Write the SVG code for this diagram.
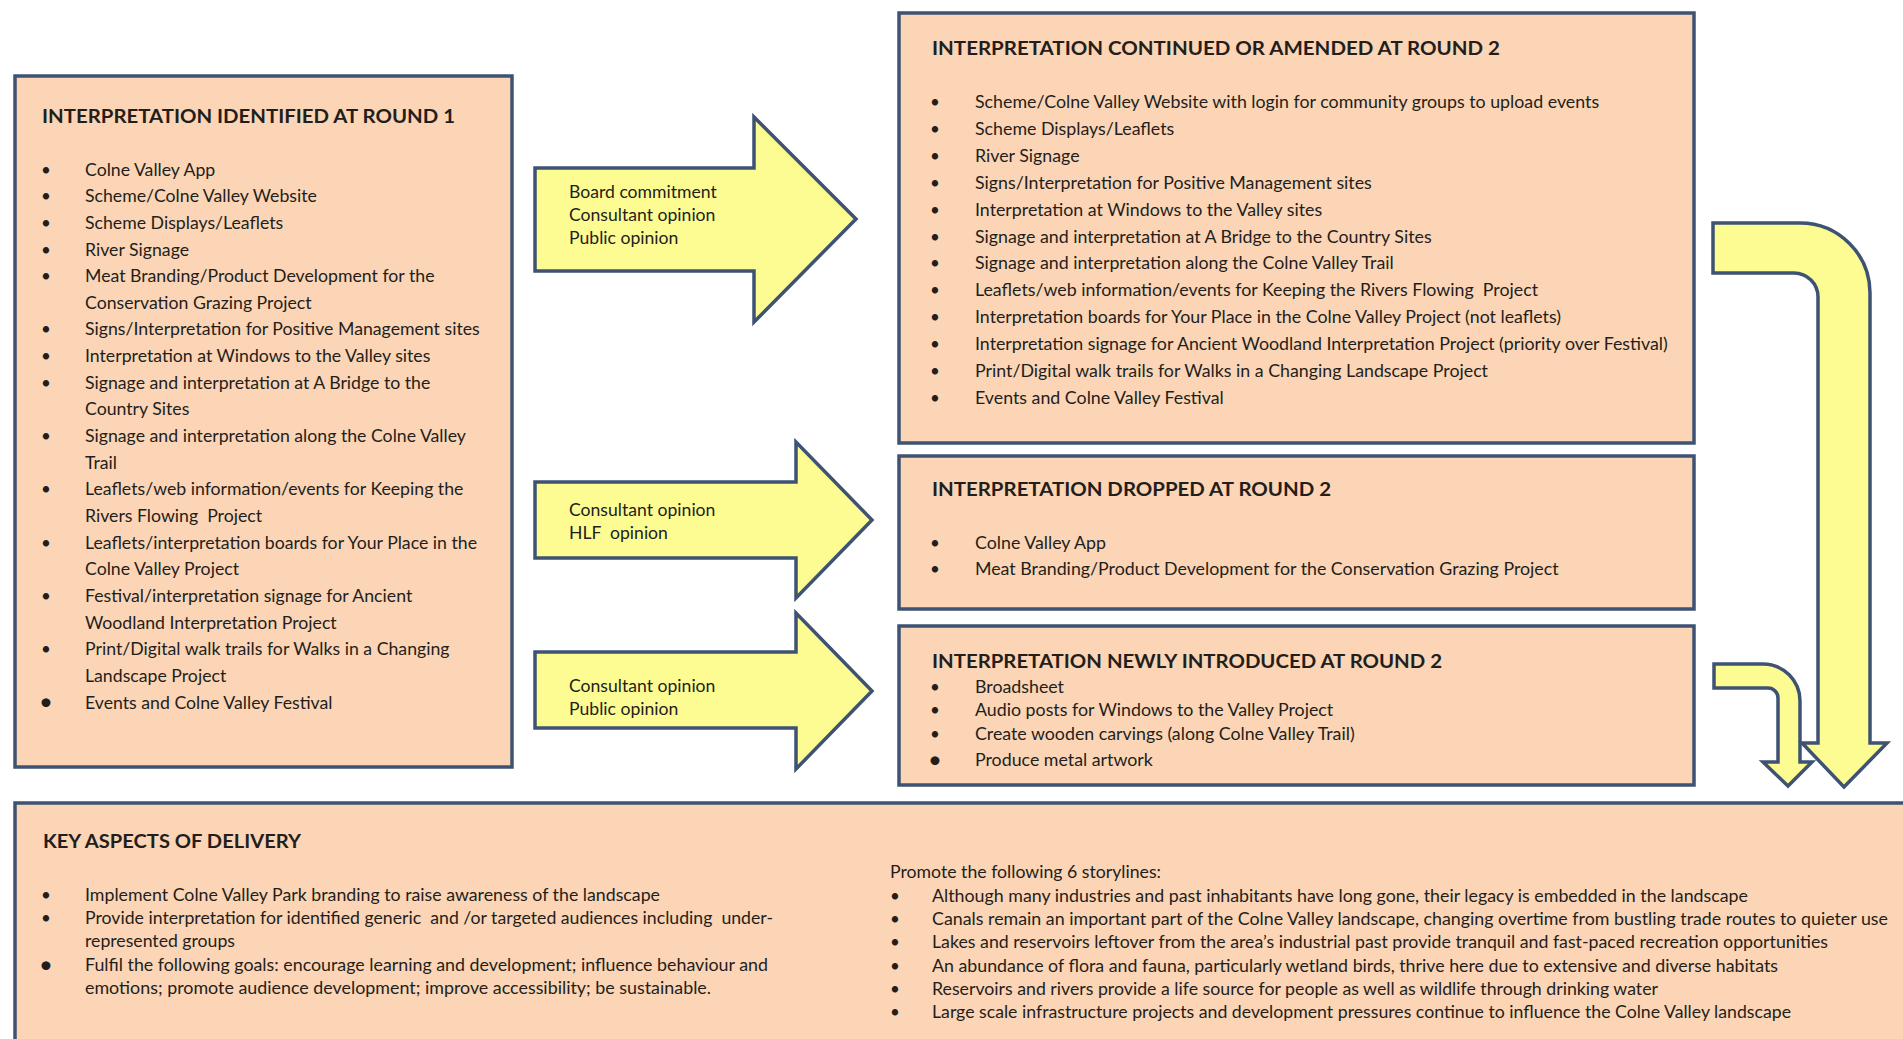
<svg xmlns="http://www.w3.org/2000/svg" width="1903" height="1039" viewBox="0 0 1903 1039">
  <style>
    .box { fill: #FBD5B6; stroke: #3E5374; stroke-width: 3.5; }
    .arrow { fill: #FDFC93; stroke: #3E5374; stroke-width: 3.5; stroke-linejoin: miter; }
    text { font-family: Lato, "Liberation Sans", sans-serif; fill: #231e1b; }
    .title { font-weight: bold; font-size: 19px; }
    .item { font-size: 17.7px; }
    .ritem { font-size: 17.8px; }
    .small { font-size: 16.4px; }
    .label { font-size: 17.6px; }
    .bul { text-anchor: middle; font-size: 17px; }
    .bigbul { text-anchor: middle; font-size: 24px; }
  </style>

  <rect width="1903" height="1039" fill="#ffffff"/>

  <!-- connectors: block arrows between the boxes -->
  <g id="connectors">
    <g id="arrow-round1-continued">
      <path class="arrow" d="M535,168 H754 V117 L856,219 L754,322 V271 H535 Z"/>
      <text class="label" x="569" y="198">Board commitment</text>
      <text class="label" x="569" y="221">Consultant opinion</text>
      <text class="label" x="569" y="244">Public opinion</text>
    </g>
    <g id="arrow-round1-dropped">
      <path class="arrow" d="M535,482 H796 V442 L872,520 L796,598 V558 H535 Z"/>
      <text class="label" x="569" y="516">Consultant opinion</text>
      <text class="label" x="569" y="539" xml:space="preserve">HLF  opinion</text>
    </g>
    <g id="arrow-round1-new">
      <path class="arrow" d="M535,652 H796 V613 L872,691 L796,769 V728 H535 Z"/>
      <text class="label" x="569" y="692">Consultant opinion</text>
      <text class="label" x="569" y="715">Public opinion</text>
    </g>
    <g id="arrow-new-delivery">
      <path class="arrow" d="M1714,664 H1763 A37,37 0 0 1 1800,701 V762 H1812 L1788,786 L1763,762 H1778 V698 A10,10 0 0 0 1768,688 H1714 Z"/>
    </g>
    <g id="arrow-continued-delivery">
      <path class="arrow" d="M1713,223 H1800 A70,70 0 0 1 1870,293 V743 H1887 L1844,787 L1802,743 H1818 V297 A24,24 0 0 0 1794,273 H1713 Z"/>
    </g>
  </g>

  <!-- Round 1 -->
  <g id="round1">
    <rect class="box" x="15" y="76" width="497" height="691"/>
    <text class="title" x="42" y="123" textLength="413" lengthAdjust="spacingAndGlyphs">INTERPRETATION IDENTIFIED AT ROUND 1</text>
    <g>
      <text class="bul" x="46" y="175.5">•</text>
      <text class="bul" x="46" y="202.2">•</text>
      <text class="bul" x="46" y="228.8">•</text>
      <text class="bul" x="46" y="255.5">•</text>
      <text class="bul" x="46" y="282.1">•</text>
      <text class="bul" x="46" y="335.4">•</text>
      <text class="bul" x="46" y="362.1">•</text>
      <text class="bul" x="46" y="388.7">•</text>
      <text class="bul" x="46" y="442">•</text>
      <text class="bul" x="46" y="495.3">•</text>
      <text class="bul" x="46" y="548.6">•</text>
      <text class="bul" x="46" y="601.9">•</text>
      <text class="bul" x="46" y="655.2">•</text>
      <text class="bigbul" x="46" y="710">•</text>
    </g>
    <g>
      <text class="item" x="85" y="175.5">Colne Valley App</text>
      <text class="item" x="85" y="202.2">Scheme/Colne Valley Website</text>
      <text class="item" x="85" y="228.8">Scheme Displays/Leaflets</text>
      <text class="item" x="85" y="255.5">River Signage</text>
      <text class="item" x="85" y="282.1">Meat Branding/Product Development for the</text>
      <text class="item" x="85" y="308.8">Conservation Grazing Project</text>
      <text class="item" x="85" y="335.4">Signs/Interpretation for Positive Management sites</text>
      <text class="item" x="85" y="362.1">Interpretation at Windows to the Valley sites</text>
      <text class="item" x="85" y="388.7">Signage and interpretation at A Bridge to the</text>
      <text class="item" x="85" y="415.4">Country Sites</text>
      <text class="item" x="85" y="442">Signage and interpretation along the Colne Valley</text>
      <text class="item" x="85" y="468.7">Trail</text>
      <text class="item" x="85" y="495.3">Leaflets/web information/events for Keeping the</text>
      <text class="item" x="85" y="522" xml:space="preserve">Rivers Flowing  Project</text>
      <text class="item" x="85" y="548.6">Leaflets/interpretation boards for Your Place in the</text>
      <text class="item" x="85" y="575.3">Colne Valley Project</text>
      <text class="item" x="85" y="601.9">Festival/interpretation signage for Ancient</text>
      <text class="item" x="85" y="628.6">Woodland Interpretation Project</text>
      <text class="item" x="85" y="655.2">Print/Digital walk trails for Walks in a Changing</text>
      <text class="item" x="85" y="681.9">Landscape Project</text>
      <text class="item" x="85" y="708.5">Events and Colne Valley Festival</text>
    </g>
  </g>

  <!-- Round 2: continued or amended -->
  <g id="continued">
    <rect class="box" x="899" y="13" width="795" height="430"/>
    <text class="title" x="932" y="55" textLength="568" lengthAdjust="spacingAndGlyphs">INTERPRETATION CONTINUED OR AMENDED AT ROUND 2</text>
    <g>
      <text class="bul" x="935" y="108">•</text>
      <text class="bul" x="935" y="134.9">•</text>
      <text class="bul" x="935" y="161.8">•</text>
      <text class="bul" x="935" y="188.7">•</text>
      <text class="bul" x="935" y="215.6">•</text>
      <text class="bul" x="935" y="242.5">•</text>
      <text class="bul" x="935" y="269.4">•</text>
      <text class="bul" x="935" y="296.3">•</text>
      <text class="bul" x="935" y="323.2">•</text>
      <text class="bul" x="935" y="350.1">•</text>
      <text class="bul" x="935" y="377">•</text>
      <text class="bul" x="935" y="403.9">•</text>
    </g>
    <text class="ritem" x="975" y="108">Scheme/Colne Valley Website with login for community groups to upload events</text>
    <text class="ritem" x="975" y="134.9">Scheme Displays/Leaflets</text>
    <text class="ritem" x="975" y="161.8">River Signage</text>
    <text class="ritem" x="975" y="188.7">Signs/Interpretation for Positive Management sites</text>
    <text class="ritem" x="975" y="215.6">Interpretation at Windows to the Valley sites</text>
    <text class="ritem" x="975" y="242.5">Signage and interpretation at A Bridge to the Country Sites</text>
    <text class="ritem" x="975" y="269.4">Signage and interpretation along the Colne Valley Trail</text>
    <text class="ritem" x="975" y="296.3" xml:space="preserve">Leaflets/web information/events for Keeping the Rivers Flowing  Project</text>
    <text class="ritem" x="975" y="323.2">Interpretation boards for Your Place in the Colne Valley Project (not leaflets)</text>
    <text class="ritem" x="975" y="350.1">Interpretation signage for Ancient Woodland Interpretation Project (priority over Festival)</text>
    <text class="ritem" x="975" y="377">Print/Digital walk trails for Walks in a Changing Landscape Project</text>
    <text class="ritem" x="975" y="403.9">Events and Colne Valley Festival</text>
  </g>

  <!-- Round 2: dropped -->
  <g id="dropped">
    <rect class="box" x="899" y="456" width="795" height="153"/>
    <text class="title" x="932" y="496" textLength="399" lengthAdjust="spacingAndGlyphs">INTERPRETATION DROPPED AT ROUND 2</text>
    <text class="bul" x="935" y="549">•</text>
    <text class="bul" x="935" y="575">•</text>
    <text class="ritem" x="975" y="549">Colne Valley App</text>
    <text class="ritem" x="975" y="575">Meat Branding/Product Development for the Conservation Grazing Project</text>
  </g>

  <!-- Round 2: newly introduced -->
  <g id="new">
    <rect class="box" x="899" y="626" width="795" height="159"/>
    <text class="title" x="932" y="668" textLength="510" lengthAdjust="spacingAndGlyphs">INTERPRETATION NEWLY INTRODUCED AT ROUND 2</text>
    <text class="bul" x="935" y="693">•</text>
    <text class="bul" x="935" y="716">•</text>
    <text class="bul" x="935" y="740">•</text>
    <text class="bigbul" x="935" y="768">•</text>
    <text class="ritem" x="975" y="693">Broadsheet</text>
    <text class="ritem" x="975" y="716">Audio posts for Windows to the Valley Project</text>
    <text class="ritem" x="975" y="740">Create wooden carvings (along Colne Valley Trail)</text>
    <text class="ritem" x="975" y="766">Produce metal artwork</text>
  </g>

  <!-- Key aspects of delivery -->
  <g id="delivery">
    <rect class="box" x="15" y="803" width="1900" height="250"/>
    <text class="title" x="43" y="848" textLength="258" lengthAdjust="spacingAndGlyphs">KEY ASPECTS OF DELIVERY</text>
    <text class="bul" x="46" y="901">•</text>
    <text class="bul" x="46" y="924">•</text>
    <text class="bigbul" x="46" y="973">•</text>
    <text class="small" x="85" y="901" textLength="575" lengthAdjust="spacingAndGlyphs">Implement Colne Valley Park branding to raise awareness of the landscape</text>
    <text class="small" x="85" y="924" textLength="688" lengthAdjust="spacingAndGlyphs" xml:space="preserve">Provide interpretation for identified generic  and /or targeted audiences including  under-</text>
    <text class="small" x="85" y="947" textLength="150" lengthAdjust="spacingAndGlyphs">represented groups</text>
    <text class="small" x="85" y="971" textLength="683" lengthAdjust="spacingAndGlyphs">Fulfil the following goals: encourage learning and development; influence behaviour and</text>
    <text class="small" x="85" y="994" textLength="626" lengthAdjust="spacingAndGlyphs">emotions; promote audience development; improve accessibility; be sustainable.</text>

    <text class="small" x="890" y="878" textLength="271" lengthAdjust="spacingAndGlyphs">Promote the following 6 storylines:</text>
    <text class="bul" x="895" y="902">•</text>
    <text class="bul" x="895" y="925">•</text>
    <text class="bul" x="895" y="948">•</text>
    <text class="bul" x="895" y="972">•</text>
    <text class="bul" x="895" y="995">•</text>
    <text class="bul" x="895" y="1018">•</text>
    <text class="small" x="932" y="902" textLength="816" lengthAdjust="spacingAndGlyphs">Although many industries and past inhabitants have long gone, their legacy is embedded in the landscape</text>
    <text class="small" x="932" y="925" textLength="956" lengthAdjust="spacingAndGlyphs">Canals remain an important part of the Colne Valley landscape, changing overtime from bustling trade routes to quieter use</text>
    <text class="small" x="932" y="948" textLength="896" lengthAdjust="spacingAndGlyphs">Lakes and reservoirs leftover from the area’s industrial past provide tranquil and fast-paced recreation opportunities</text>
    <text class="small" x="932" y="972" textLength="846" lengthAdjust="spacingAndGlyphs">An abundance of flora and fauna, particularly wetland birds, thrive here due to extensive and diverse habitats</text>
    <text class="small" x="932" y="995" textLength="726" lengthAdjust="spacingAndGlyphs">Reservoirs and rivers provide a life source for people as well as wildlife through drinking water</text>
    <text class="small" x="932" y="1018" textLength="859" lengthAdjust="spacingAndGlyphs">Large scale infrastructure projects and development pressures continue to influence the Colne Valley landscape</text>
  </g>
</svg>
